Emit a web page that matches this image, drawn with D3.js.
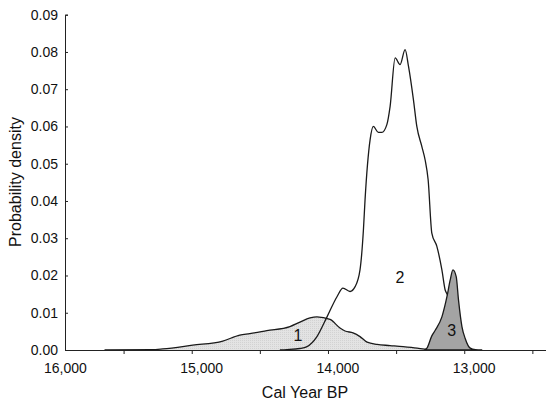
<!DOCTYPE html>
<html>
<head>
<meta charset="utf-8">
<script src="https://cdn.jsdelivr.net/npm/d3@7"></script>
<style>
	body { margin: 0; background: #fff; }
	svg { display: block; font-family: "Liberation Sans", Arial, sans-serif; }
</style>
</head>
<body>
<svg width="546" height="407"></svg>
<script>
// calibrated ages (cal yr BP) and probability density for each date
const years1 = [15640, 15294, 15213, 14993, 14772, 14647, 14574, 14449, 14279, 14206, 14132, 14081, 13985, 13912, 13875, 13816, 13765, 13713, 13640, 13544, 13449, 13346, 13287, 13250];
const dens1 = [0, 0.0001, 0.0003, 0.0013, 0.0024, 0.0040, 0.0044, 0.0052, 0.0063, 0.0075, 0.0086, 0.0089, 0.0082, 0.0059, 0.0051, 0.0046, 0.0036, 0.0021, 0.0015, 0.0012, 0.0009, 0.0005, 0.0002, 0];

const years2 = [14353, 14301, 14206, 14154, 14081, 14007, 13934, 13890, 13838, 13801, 13765, 13740, 13728, 13691, 13667, 13630, 13605, 13568, 13544, 13507, 13471, 13434, 13409, 13373, 13348, 13311, 13287, 13265, 13238, 13201, 13164, 13140, 13123, 13088, 13044, 13000];
const dens2 = [0, 0.0001, 0.0004, 0.0009, 0.0036, 0.0089, 0.0143, 0.0166, 0.0157, 0.0170, 0.0215, 0.0322, 0.0403, 0.0564, 0.0600, 0.0584, 0.0584, 0.0605, 0.0654, 0.0784, 0.0766, 0.0806, 0.0761, 0.0672, 0.0600, 0.0546, 0.0510, 0.0457, 0.0314, 0.0278, 0.0215, 0.0161, 0.0148, 0.0081, 0.0021, 0];

const years3 = [13294, 13274, 13238, 13213, 13164, 13127, 13103, 13083, 13059, 13042, 13017, 12993, 12956, 12919, 12868];
const dens3 = [0, 0.0005, 0.0038, 0.0053, 0.0089, 0.0143, 0.0188, 0.0215, 0.0197, 0.0134, 0.0063, 0.0031, 0.0005, 0.0001, 0];

const curveLabels = ['1', '2', '3'];
const labelYears = [14220, 13471, 13092];
const labelDens = [0.0025, 0.0180, 0.0038];

const yTicks = [0, 0.01, 0.02, 0.03, 0.04, 0.05, 0.06, 0.07, 0.08, 0.09];
const xTicks = [15500, 15000, 14500, 14000, 13500, 13000, 12500];
const xLabels = [16000, 15000, 14000, 13000];

const svg = d3.select('svg');

const xScale = d3.scaleLinear()
	.domain([15930, 12400])
	.range([65, 546]);
const yScale = d3.scaleLinear()
	.domain([0, 0.09])
	.range([350, 14.7]);

const toPoints = (ys, ds) => ys.map((y, i) => [y, ds[i]]);

const area = d3.area()
	.x(d => xScale(d[0]))
	.y0(yScale(0))
	.y1(d => yScale(d[1]))
	.curve(d3.curveMonotoneX);
const line = d3.line()
	.x(d => xScale(d[0]))
	.y(d => yScale(d[1]))
	.curve(d3.curveMonotoneX);

// fine stipple for date 1
const defs = svg.append('defs');
const pat = defs.append('pattern')
	.attr('id', 'stipple')
	.attr('width', 2)
	.attr('height', 2)
	.attr('patternUnits', 'userSpaceOnUse');
pat.append('rect').attr('width', 2).attr('height', 2).attr('fill', '#e3e3e3');
pat.append('rect').attr('width', 1).attr('height', 1).attr('fill', '#d2d2d2');

const p1 = toPoints(years1, dens1);
const p2 = toPoints(years2, dens2);
const p3 = toPoints(years3, dens3);

svg.append('path')
	.attr('d', area(p1))
	.attr('fill', 'url(#stipple)');

svg.append('path')
	.attr('d', line(p2))
	.attr('fill', 'none')
	.attr('stroke', '#1a1a1a')
	.attr('stroke-width', 1.3);

svg.append('path')
	.attr('d', line(p1))
	.attr('fill', 'none')
	.attr('stroke', '#1a1a1a')
	.attr('stroke-width', 1.3);

svg.append('path')
	.attr('d', area(p3))
	.attr('fill', '#a4a4a4')
	.attr('stroke', '#1a1a1a')
	.attr('stroke-width', 1.3);

svg.selectAll('.curve-label')
	.data(curveLabels)
	.enter()
	.append('text')
	.attr('class', 'curve-label')
	.attr('x', (d, i) => xScale(labelYears[i]))
	.attr('y', (d, i) => yScale(labelDens[i]))
	.attr('text-anchor', 'middle')
	.style('font-size', '16px')
	.attr('fill', '#111')
	.text(d => d);

// axes
const yAxis = d3.axisLeft(yScale)
	.tickValues(yTicks)
	.tickSize(-3)
	.tickPadding(7)
	.tickFormat(d3.format('.2f'));

svg.append('g')
	.attr('id', 'y-axis')
	.attr('transform', 'translate(65,0)')
	.call(yAxis)
	.call(g => g.selectAll('text').style('font-size', '14px').attr('fill', '#111'))
	.call(g => g.selectAll('line, path').attr('stroke', '#222'));

const xAxis = d3.axisBottom(xScale)
	.tickValues(xTicks)
	.tickSize(4)
	.tickSizeOuter(0)
	.tickFormat('');

svg.append('g')
	.attr('id', 'x-axis')
	.attr('transform', 'translate(0,350)')
	.call(xAxis)
	.call(g => g.selectAll('line, path').attr('stroke', '#222'));

svg.append('g')
	.attr('id', 'x-labels')
	.selectAll('text')
	.data(xLabels)
	.enter()
	.append('text')
	.attr('x', d => xScale(d) + 10)
	.attr('y', 373)
	.attr('text-anchor', 'middle')
	.style('font-size', '14px')
	.attr('fill', '#111')
	.text(d3.format(','));

svg.append('text')
	.attr('x', 305)
	.attr('y', 398)
	.attr('text-anchor', 'middle')
	.style('font-size', '16px')
	.attr('fill', '#111')
	.text('Cal Year BP');

svg.append('text')
	.attr('transform', 'translate(21,182) rotate(-90)')
	.attr('text-anchor', 'middle')
	.style('font-size', '16px')
	.attr('fill', '#111')
	.text('Probability density');
</script>
</body>
</html>
